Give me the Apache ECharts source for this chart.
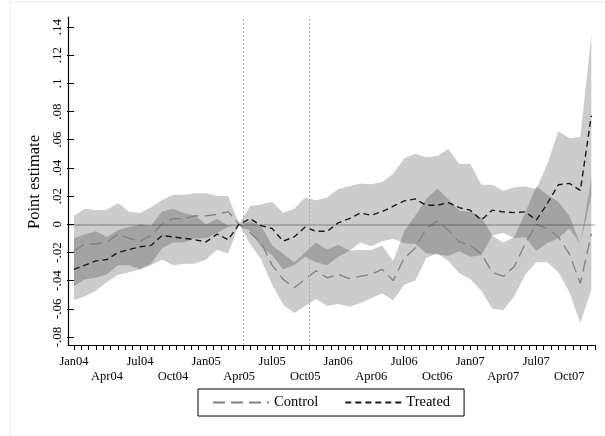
<!DOCTYPE html>
<html>
<head>
<meta charset="utf-8">
<title>Point estimate</title>
<script src="https://cdn.jsdelivr.net/npm/echarts@6/dist/echarts.min.js"></script>
<style>
  html, body { margin: 0; padding: 0; background: #fff; }
  #chart { width: 605px; height: 436px; }
</style>
</head>
<body>
<div id="chart"></div>
<script>
// x labels, every 3 months from Jan04 (month 0)
const tickLabels = ['Jan04', 'Apr04', 'Jul04', 'Oct04', 'Jan05', 'Apr05', 'Jul05', 'Oct05',
  'Jan06', 'Apr06', 'Jul06', 'Oct06', 'Jan07', 'Apr07', 'Jul07', 'Oct07']
// vertical reference lines (months since Jan04)
const eventMonths = [15.4, 21.4]

// monthly estimates Jan04..Dec07 (48 points)
const controlEst = [-0.019, -0.014, -0.014, -0.0125, -0.007, -0.010, -0.012, -0.008, 0.000, 0.004, 0.004, 0.006,
  0.006, 0.007, 0.009, 0.000, -0.006, -0.013, -0.029, -0.039, -0.045, -0.039, -0.033, -0.038,
  -0.0355, -0.0386, -0.037, -0.0355, -0.032, -0.040, -0.024, -0.017, -0.003, 0.0024, -0.004, -0.0125,
  -0.015, -0.021, -0.034, -0.037, -0.030, -0.0137, 0.000, -0.003, -0.009, -0.021, -0.042, -0.0066]
const controlLo = [-0.044, -0.039, -0.038, -0.0355, -0.029, -0.029, -0.032, -0.028, -0.017, -0.013, -0.013, -0.010,
  -0.010, -0.006, -0.002, 0.000, -0.014, -0.025, -0.043, -0.057, -0.063, -0.058, -0.053, -0.058,
  -0.0565, -0.0586, -0.056, -0.0525, -0.049, -0.054, -0.043, -0.040, -0.024, -0.0206, -0.026, -0.0345,
  -0.039, -0.047, -0.060, -0.061, -0.051, -0.0357, -0.027, -0.027, -0.034, -0.048, -0.070, -0.0466]
const controlHi = [0.006, 0.011, 0.010, 0.0105, 0.015, 0.009, 0.008, 0.012, 0.017, 0.021, 0.021, 0.022,
  0.022, 0.020, 0.020, 0.000, 0.002, -0.001, -0.015, -0.021, -0.027, -0.020, -0.013, -0.018,
  -0.0145, -0.0186, -0.018, -0.0185, -0.015, -0.026, -0.005, 0.006, 0.018, 0.0254, 0.018, 0.0095,
  0.009, 0.005, -0.008, -0.013, -0.009, 0.0083, 0.027, 0.021, 0.016, 0.006, -0.014, 0.0334]

const treatedEst = [-0.032, -0.029, -0.026, -0.025, -0.020, -0.018, -0.016, -0.015, -0.008, -0.009, -0.010, -0.011,
  -0.0125, -0.007, -0.011, 0.000, 0.004, -0.001, -0.003, -0.012, -0.009, -0.002, -0.005, -0.005,
  0.001, 0.004, 0.008, 0.0064, 0.009, 0.0128, 0.0166, 0.018, 0.0135, 0.0135, 0.0154, 0.0118,
  0.010, 0.003, 0.010, 0.0088, 0.0083, 0.0088, 0.003, 0.0147, 0.028, 0.029, 0.024, 0.077]
const treatedLo = [-0.054, -0.051, -0.047, -0.041, -0.036, -0.034, -0.032, -0.029, -0.025, -0.029, -0.028, -0.028,
  -0.025, -0.018, -0.021, 0.000, -0.005, -0.016, -0.022, -0.032, -0.029, -0.023, -0.027, -0.029,
  -0.023, -0.019, -0.013, -0.0156, -0.012, -0.0102, -0.0134, -0.014, -0.0205, -0.0215, -0.0226, -0.0192,
  -0.023, -0.022, -0.008, -0.0062, -0.0097, -0.0092, -0.019, -0.0133, -0.010, -0.003, -0.014, 0.020]
const treatedHi = [-0.010, -0.007, -0.005, -0.009, -0.004, -0.002, 0.000, -0.001, 0.009, 0.011, 0.008, 0.006,
  0.000, 0.004, -0.001, 0.000, 0.013, 0.014, 0.016, 0.008, 0.011, 0.019, 0.017, 0.019,
  0.025, 0.027, 0.029, 0.0284, 0.030, 0.0358, 0.0466, 0.050, 0.0475, 0.0485, 0.0534, 0.0428,
  0.043, 0.028, 0.028, 0.0238, 0.0263, 0.0268, 0.025, 0.0427, 0.066, 0.061, 0.062, 0.134]

const FONT = "'Liberation Serif', 'DejaVu Serif', serif"
const BAND = 'rgba(0,0,0,0.2)'

const pairs = arr => arr.map((v, i) => [i, v])

// confidence band drawn as one polygon through the axis scales
function band (name, lo, hi) {
  return {
    name: name, type: 'custom', xAxisIndex: 1, yAxisIndex: 1, silent: true, z: 1,
    data: [[0, lo[0]]],
    renderItem (params, api) {
      const pts = lo.map((v, i) => api.coord([i, v]))
      for (let i = hi.length - 1; i >= 0; i--) pts.push(api.coord([i, hi[i]]))
      return { type: 'polygon', shape: { points: pts }, style: { fill: BAND, stroke: null } }
    }
  }
}

function yFmt (v) {
  const r = Math.round(v * 100) / 100
  if (r === 0) return '0'
  return String(r).replace('0.', '.')
}

function xFmt (v) {
  const k = Math.round(v / 3)
  if (Math.abs(v - 3 * k) > 1e-6 || k >= tickLabels.length) return ''
  return (k % 2 ? '\n' : '') + tickLabels[k]
}

const chart = echarts.init(document.getElementById('chart'))
const option = {
  animation: false,
  backgroundColor: '#fff',
  textStyle: { fontFamily: FONT, color: '#000' },
  graphic: [{
    type: 'rect', silent: true, z: -1,
    shape: { x: 10, y: 2, width: 640, height: 480 },
    style: { fill: 'none', stroke: '#e8e8e8', lineWidth: 1 }
  }],
  grid: [
    { left: 68, right: 10, top: 17, bottom: 91, outerBoundsMode: 'none' },  // frame
    { left: 74, right: 10, top: 27, bottom: 99, outerBoundsMode: 'none' }   // data, ticks, labels
  ],
  xAxis: [
    {
      type: 'value', gridIndex: 0, min: -0.545, max: 47.333,
      axisLine: { show: true, onZero: false, lineStyle: { color: '#000', width: 1.2 } },
      axisTick: { show: false }, axisLabel: { show: false }, splitLine: { show: false }
    },
    {
      type: 'value', gridIndex: 1, position: 'bottom', offset: 8, min: 0, max: 47.333, interval: 3,
      axisLine: { show: false }, axisTick: { show: false }, splitLine: { show: false },
      axisLabel: {
        show: true, formatter: xFmt, showMaxLabel: false, margin: 9,
        fontFamily: FONT, fontSize: 12.5, lineHeight: 15, color: '#000'
      }
    },
    {
      type: 'value', gridIndex: 1, position: 'bottom', offset: 8, min: 0, max: 142, interval: 2,
      axisLine: { show: false }, axisLabel: { show: false }, splitLine: { show: false },
      axisTick: { show: true, length: 5, lineStyle: { color: '#000', width: 1 } }
    }
  ],
  yAxis: [
    {
      type: 'value', gridIndex: 0, min: -0.0857, max: 0.1471,
      axisLine: { show: true, onZero: false, lineStyle: { color: '#000', width: 1.2 } },
      axisTick: { show: false }, axisLabel: { show: false }, splitLine: { show: false }
    },
    {
      type: 'value', gridIndex: 1, position: 'left', offset: 6, min: -0.08, max: 0.14, interval: 0.02,
      name: 'Point estimate', nameLocation: 'middle', nameGap: 25,
      nameTextStyle: { fontFamily: FONT, fontSize: 16.5, color: '#000' },
      axisLine: { show: false }, splitLine: { show: false },
      axisTick: { show: true, length: 7, lineStyle: { color: '#000', width: 1 } },
      axisLabel: { rotate: 90, margin: 4, formatter: yFmt, fontFamily: FONT, fontSize: 13, color: '#000' }
    }
  ],
  legend: {
    data: ['Control', 'Treated'],
    left: 198, top: 389, orient: 'horizontal',
    itemWidth: 56, itemHeight: 14, itemGap: 26,
    padding: [6, 14], borderColor: '#000', borderWidth: 1, borderRadius: 0,
    itemStyle: { opacity: 0 },
    textStyle: { fontFamily: FONT, fontSize: 14.5, color: '#000' }
  },
  series: [
    {
      // frame helpers: zero line and reference dates
      type: 'line', xAxisIndex: 0, yAxisIndex: 0, data: [[0, 0]], symbol: 'none', silent: true,
      lineStyle: { width: 0 }, z: 0,
      markLine: {
        symbol: 'none', silent: true, animation: false, label: { show: false },
        data: [
          { yAxis: 0, lineStyle: { color: 'rgba(0,0,0,0.25)', width: 1.5, type: 'solid' } }
        ].concat(eventMonths.map(m => ({ xAxis: m, lineStyle: { color: '#aaa', width: 1, type: [2, 2] } })))
      }
    },
    band('ctrlBand', controlLo, controlHi),
    band('trtBand', treatedLo, treatedHi),
    {
      name: 'Control', type: 'line', xAxisIndex: 1, yAxisIndex: 1, data: pairs(controlEst),
      symbol: 'none', z: 3,
      itemStyle: { color: '#808080' },
      lineStyle: { color: '#808080', width: 1.3, type: [12, 6] }
    },
    {
      name: 'Treated', type: 'line', xAxisIndex: 1, yAxisIndex: 1, data: pairs(treatedEst),
      symbol: 'none', z: 4,
      itemStyle: { color: '#1a1a1a' },
      lineStyle: { color: '#1a1a1a', width: 1.4, type: [6, 4] }
    }
  ]
}
chart.setOption(option)
</script>
</body>
</html>
